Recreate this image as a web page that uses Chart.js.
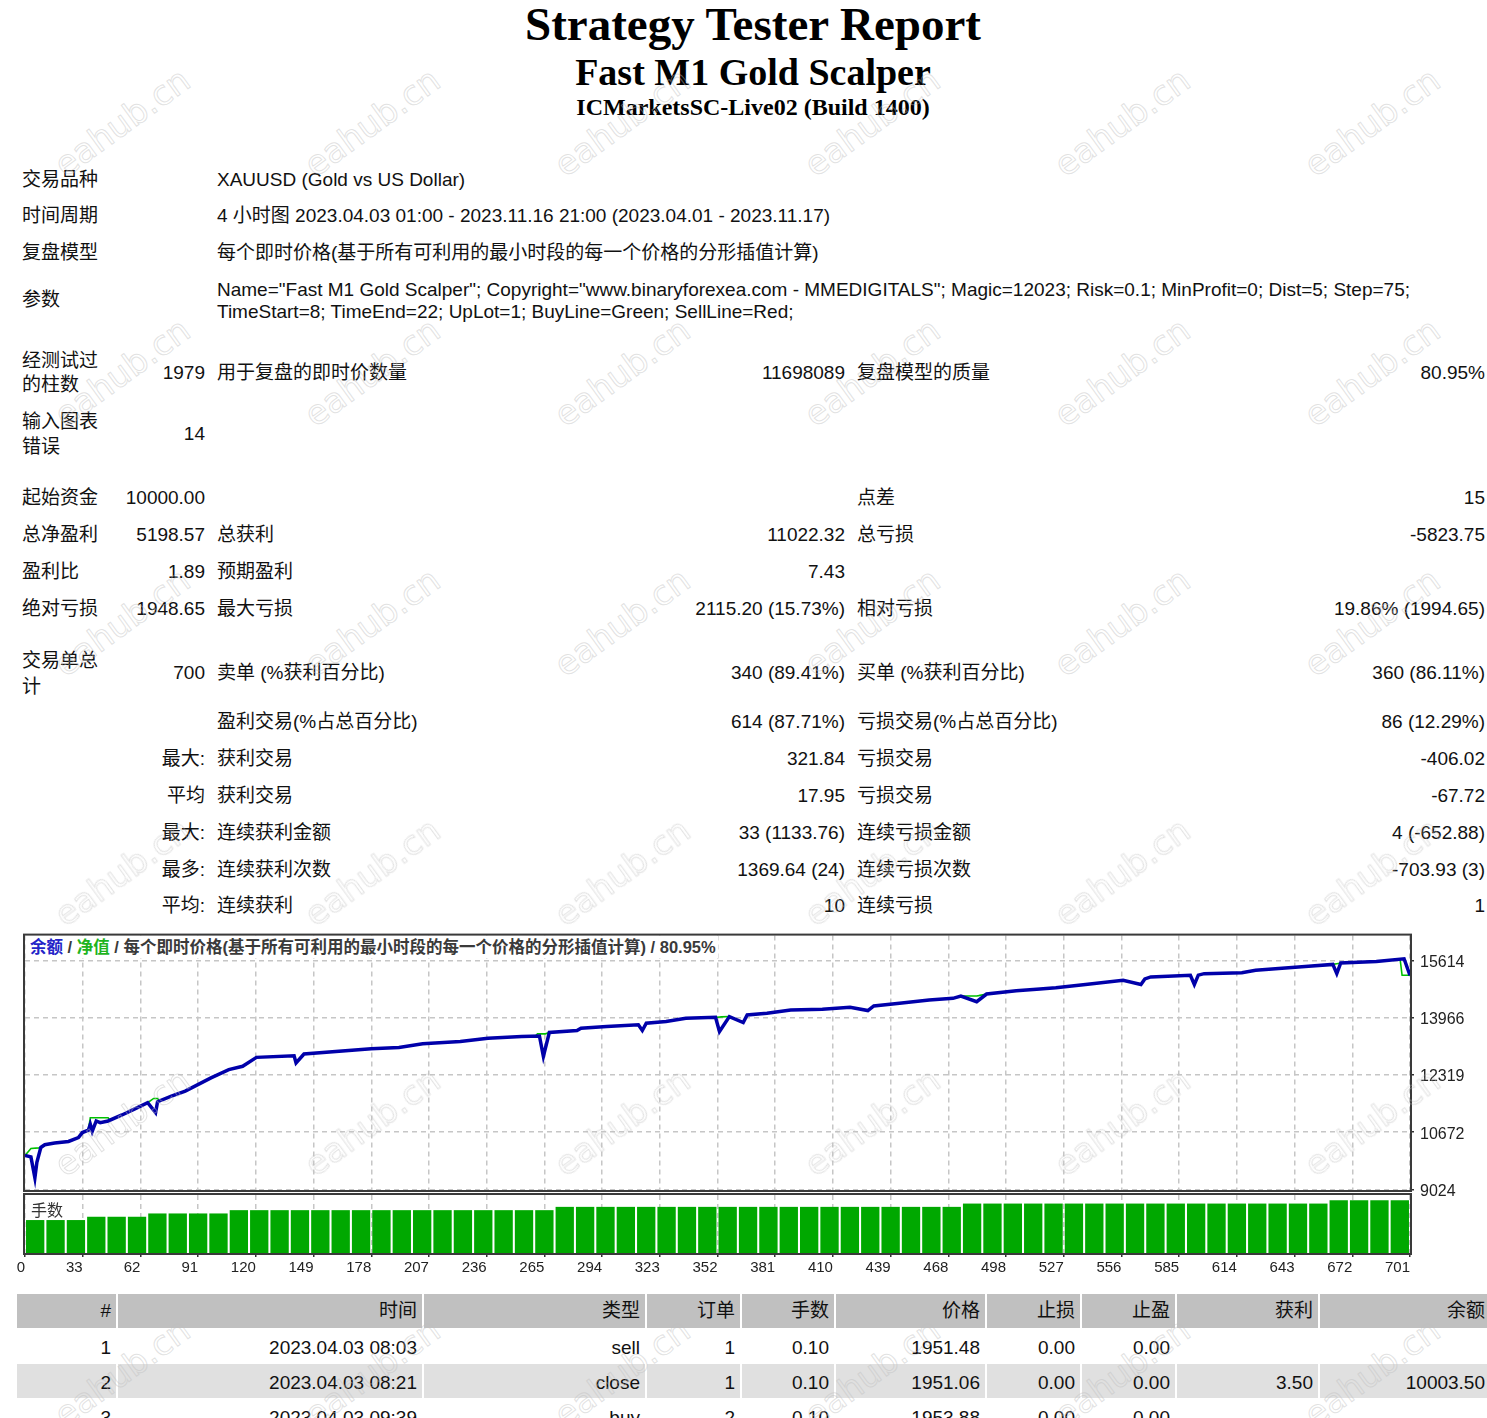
<!DOCTYPE html>
<html><head><meta charset="utf-8">
<script src="https://cdn.jsdelivr.net/npm/chart.js@4.4.0/dist/chart.umd.min.js"></script>
<style>
html,body{margin:0;padding:0;background:#fff;}
body{width:1487px;height:1418px;overflow:hidden;position:relative;font-family:"Liberation Sans","Noto Sans CJK SC",sans-serif;color:#111;}
.t{position:absolute;white-space:nowrap;font-size:19px;line-height:24px;height:24px;z-index:3;}
.h{position:absolute;left:0;width:1506px;text-align:center;font-family:"Liberation Serif",serif;font-weight:bold;color:#000;white-space:nowrap;}
.cell{position:absolute;z-index:1;}
.wm{position:absolute;font-family:"DejaVu Sans",sans-serif;font-size:34px;line-height:40px;color:transparent;-webkit-text-stroke:1px rgba(190,190,190,0.45);transform:translate(-50%,-50%) rotate(-36deg);white-space:nowrap;pointer-events:none;z-index:10;}
canvas{position:absolute;left:0;}
#legend{position:absolute;left:28px;top:936px;height:22px;line-height:22px;font-size:16.5px;font-weight:bold;background:#fff;color:#3a3a3a;padding:0 2px;white-space:nowrap;z-index:5;font-family:"Liberation Sans","Noto Sans CJK SC",sans-serif;}
#lotsTitle{position:absolute;left:31px;top:1198px;height:22px;line-height:22px;font-size:16px;color:#333;z-index:5;font-family:"Noto Sans CJK SC",sans-serif;}
</style></head><body>
<div class="h" style="top:1px;font-size:47px;line-height:47px;">Strategy Tester Report</div>
<div class="h" style="top:53px;font-size:38px;line-height:38px;">Fast M1 Gold Scalper</div>
<div class="h" style="top:95px;font-size:24px;line-height:24px;">ICMarketsSC-Live02 (Build 1400)</div>

<canvas id="c2" width="1487" height="105" style="top:1180px;"></canvas>
<canvas id="c1" width="1487" height="290" style="top:920px;"></canvas>
<div id="legend"><span style="color:#2424c8">余额</span> / <span style="color:#1eb41e">净值</span> / 每个即时价格(基于所有可利用的最小时段的每一个价格的分形插值计算) / 80.95%</div>
<div id="lotsTitle">手数</div>

<script>
// ---------- chart data ----------
const xTickLabels = ['0','33','62','91','120','149','178','207','236','265','294','323','352','381','410','439','468','498','527','556','585','614','643','672','701'];
const yTickValues = [9024, 10672, 12319, 13966, 15614];

const balanceTrade = [0,3,5,6,8,10,15,22,27,29,32,33,34,36,38,42,49,55,62,66,67,74,81,94,103,110,117,136,137,141,175,189,201,220,234,251,260,262,265,279,281,294,310,312,314,324,334,349,351,356,363,365,375,387,403,417,426,429,442,457,469,473,481,486,501,513,521,536,555,564,566,569,589,591,593,596,615,622,647,661,663,665,683,697,700];
const balanceValue = [10000,9960,9357,9803,10232,10309,10357,10403,10517,10660,10728,10900,10700,10994,10946,10994,11166,11328,11519,11233,11547,11709,11852,12233,12471,12567,12824,12871,12662,12919,13072,13110,13214,13281,13376,13424,13440,12854,13540,13598,13664,13712,13760,13598,13807,13855,13950,13979,13569,13998,13826,14046,14093,14189,14207,14265,14170,14303,14379,14476,14522,14590,14427,14647,14742,14790,14824,14919,15043,14919,15080,15138,15185,14919,15190,15233,15261,15328,15442,15499,15233,15540,15585,15661,15185];

const equityTrade = [0,3,7,8,10,15,22,27,29,32,33,42,43,49,55,62,65,67,68,74,81,94,103,110,117,136,137,141,175,189,201,220,234,251,258,259,263,265,279,281,294,310,312,314,324,334,349,350,352,356,363,365,375,387,403,417,426,429,442,457,469,473,481,482,486,501,513,521,536,555,564,566,569,589,591,593,596,615,622,647,661,663,665,683,695,696,700];
const equityValue = [10000,10204,10220,10232,10309,10357,10403,10517,10660,10728,11088,11088,11010,11166,11328,11519,11642,11642,11575,11709,11852,12233,12471,12567,12824,12871,12662,12919,13072,13110,13214,13281,13376,13424,13440,13500,13500,13540,13598,13664,13712,13760,13598,13807,13855,13950,13979,13979,13990,13998,13826,14046,14093,14189,14207,14265,14170,14303,14379,14476,14522,14590,14590,14600,14647,14742,14790,14824,14919,15043,14919,15080,15138,15185,14919,15190,15233,15261,15328,15442,15499,15520,15540,15585,15650,15185,15185];

const lotsPerBar = [0.10,0.10,0.10, 0.11,0.11,0.11, 0.12,0.12,0.12,0.12,
  0.13,0.13,0.13,0.13,0.13,0.13,0.13,0.13,0.13,0.13,0.13,0.13,0.13,0.13,0.13,0.13,
  0.14,0.14,0.14,0.14,0.14,0.14,0.14,0.14,0.14,0.14,0.14,0.14,0.14,0.14,0.14,0.14,0.14,0.14,0.14,0.14,
  0.15,0.15,0.15,0.15,0.15,0.15,0.15,0.15,0.15,0.15,0.15,0.15,0.15,0.15,0.15,0.15,0.15,0.15,
  0.16,0.16,0.16,0.16];

// ---------- report text ----------
function put(txt, x, y, right, extra) {
  const d = document.createElement('div');
  d.className = 't';
  d.textContent = txt;
  d.style.top = (y - 12) + 'px';
  if (right) d.style.right = (1487 - x) + 'px'; else d.style.left = x + 'px';
  if (extra) Object.assign(d.style, extra);
  document.body.appendChild(d);
}
function row(y, l1, v1, l2, v2, l3, v3) {
  if (l1) put(l1, 22, y);
  if (v1) put(v1, 205, y, true);
  if (l2) put(l2, 217, y);
  if (v2) put(v2, 845, y, true);
  if (l3) put(l3, 857, y);
  if (v3) put(v3, 1485, y, true);
}
put('交易品种', 22, 180); put('XAUUSD (Gold vs US Dollar)', 217, 180);
put('时间周期', 22, 216); put('4 小时图 2023.04.03 01:00 - 2023.11.16 21:00 (2023.04.01 - 2023.11.17)', 217, 216);
put('复盘模型', 22, 253); put('每个即时价格(基于所有可利用的最小时段的每一个价格的分形插值计算)', 217, 253);
put('参数', 22, 300);
put('Name="Fast M1 Gold Scalper"; Copyright="www.binaryforexea.com - MMEDIGITALS"; Magic=12023; Risk=0.1; MinProfit=0; Dist=5; Step=75;', 217, 290);
put('TimeStart=8; TimeEnd=22; UpLot=1; BuyLine=Green; SellLine=Red;', 217, 312);

put('经测试过', 22, 361); put('的柱数', 22, 385);
row(373, '', '1979', '用于复盘的即时价数量', '11698089', '复盘模型的质量', '80.95%');
put('输入图表', 22, 422); put('错误', 22, 447);
row(434, '', '14', '', '', '', '');
row(498, '起始资金', '10000.00', '', '', '点差', '15');
row(535, '总净盈利', '5198.57', '总获利', '11022.32', '总亏损', '-5823.75');
row(572, '盈利比', '1.89', '预期盈利', '7.43', '', '');
row(609, '绝对亏损', '1948.65', '最大亏损', '2115.20 (15.73%)', '相对亏损', '19.86% (1994.65)');
put('交易单总', 22, 661); put('计', 22, 687);
row(673, '', '700', '卖单 (%获利百分比)', '340 (89.41%)', '买单 (%获利百分比)', '360 (86.11%)');
row(722, '', '', '盈利交易(%占总百分比)', '614 (87.71%)', '亏损交易(%占总百分比)', '86 (12.29%)');
row(759, '', '最大:', '获利交易', '321.84', '亏损交易', '-406.02');
row(796, '', '平均', '获利交易', '17.95', '亏损交易', '-67.72');
row(833, '', '最大:', '连续获利金额', '33 (1133.76)', '连续亏损金额', '4 (-652.88)');
row(870, '', '最多:', '连续获利次数', '1369.64 (24)', '连续亏损次数', '-703.93 (3)');
row(906, '', '平均:', '连续获利', '10', '连续亏损', '1');

// ---------- trade list table ----------
const colEdges = [[17,116],[118,422],[424,645],[647,740],[742,834],[836,985],[987,1080],[1082,1175],[1177,1318],[1320,1487]];
const rowsTop = [[1294,1328,'#c0c0c0'],[1330,1362,'#ffffff'],[1364,1398,'#e0e0e0'],[1400,1434,'#ffffff']];
rowsTop.forEach(r => colEdges.forEach(c => {
  const d = document.createElement('div'); d.className = 'cell';
  Object.assign(d.style, {left: c[0]+'px', width: (c[1]-c[0])+'px', top: r[0]+'px', height: (r[1]-r[0])+'px', background: r[2]});
  document.body.appendChild(d);
}));
const tableRows = [
  [1311, ['#','时间','类型','订单','手数','价格','止损','止盈','获利','余额']],
  [1348, ['1','2023.04.03 08:03','sell','1','0.10','1951.48','0.00','0.00','','']],
  [1383, ['2','2023.04.03 08:21','close','1','0.10','1951.06','0.00','0.00','3.50','10003.50']],
  [1418, ['3','2023.04.03 09:39','buy','2','0.10','1953.88','0.00','0.00','','']]
];
tableRows.forEach(r => r[1].forEach((txt, i) => {
  if (!txt) return;
  const rx = i === 9 ? 1485 : colEdges[i][1] - 5;
  put(txt, rx, r[0], true);
}));

// ---------- watermarks ----------
[122,372,622,872,1122,1372].forEach(y => [122,372,622,872,1122,1372].forEach(x => {
  const d = document.createElement('div'); d.className = 'wm'; d.textContent = 'eahub.cn';
  d.style.left = x + 'px'; d.style.top = y + 'px';
  document.body.appendChild(d);
}));

// ---------- charts ----------
const framePlugin = {
  id: 'frame',
  afterDraw(chart) {
    const {ctx, chartArea: a} = chart;
    ctx.save();
    ctx.strokeStyle = '#3a3a3a';
    ctx.lineWidth = 2;
    ctx.setLineDash([]);
    ctx.strokeRect(a.left - 1, a.top - 1, a.right - a.left + 2, a.bottom - a.top + 2);
    ctx.restore();
  }
};
const xMax = 700;
const gridColor = '#c6c6c6';
const xTicksBuild = s => { s.ticks = xTickLabels.map((_, k) => ({value: k * xMax / (xTickLabels.length - 1)})); };

new Chart(document.getElementById('c1'), {
  type: 'line',
  data: {
    datasets: [
      {label: '余额', data: balanceTrade.map((t, i) => ({x: t, y: balanceValue[i]})), borderColor: '#0000aa', borderWidth: 3.5, pointRadius: 0, tension: 0, order: 0},
      {label: '净值', data: equityTrade.map((t, i) => ({x: t, y: equityValue[i]})), borderColor: '#00c000', borderWidth: 1.6, pointRadius: 0, tension: 0, order: 1}
    ]
  },
  options: {
    responsive: false, animation: false, events: [],
    layout: {padding: {left: 25, top: 14, right: 0, bottom: 20}},
    plugins: {legend: {display: false}, tooltip: {enabled: false}},
    scales: {
      x: {type: 'linear', min: 0, max: xMax, position: 'bottom', offset: false,
        afterBuildTicks: xTicksBuild,
        afterFit: s => { s.height = 0; },
        ticks: {display: false},
        grid: {color: gridColor, lineWidth: 1.5, drawTicks: false, offset: false},
        border: {display: false, dash: [5, 4]}},
      y: {type: 'linear', position: 'right', min: 9007, max: 16328,
        afterBuildTicks: s => { s.ticks = yTickValues.map(v => ({value: v})); },
        afterFit: s => { s.width = 77; },
        ticks: {color: '#222', font: {family: 'Liberation Sans', size: 16}, padding: 6, labelOffset: 2, autoSkip: false, callback: v => String(v)},
        grid: {color: gridColor, lineWidth: 1.5, tickColor: '#333', tickLength: 4, tickWidth: 1.5},
        border: {display: false, dash: [5, 4]}}
    }
  },
  plugins: [framePlugin]
});

new Chart(document.getElementById('c2'), {
  type: 'bar',
  data: {
    labels: lotsPerBar.map((_, i) => String(i)),
    datasets: [{label: '手数', data: lotsPerBar, xAxisID: 'xb', yAxisID: 'y', backgroundColor: '#00a800', borderWidth: 0, barPercentage: 0.9, categoryPercentage: 1}]
  },
  options: {
    responsive: false, animation: false, events: [],
    layout: {padding: {left: 25, top: 15, right: 77, bottom: 0}},
    plugins: {legend: {display: false}, tooltip: {enabled: false}},
    scales: {
      x: {type: 'linear', min: 0, max: xMax, position: 'bottom', offset: false,
        afterBuildTicks: xTicksBuild,
        afterFit: s => { s.height = 32; },
        ticks: {color: '#222', font: {family: 'Liberation Sans', size: 15}, padding: 2, align: 'end', maxRotation: 0, autoSkip: false, callback: (v, i) => xTickLabels[i]},
        grid: {color: gridColor, lineWidth: 1.5, tickColor: '#333', tickLength: 4, tickWidth: 1.5, offset: false},
        border: {display: false, dash: [5, 4]}},
      xb: {type: 'category', display: false, offset: true, grid: {display: false}},
      y: {type: 'linear', display: false, min: 0, max: 0.176}
    }
  },
  plugins: [framePlugin]
});
</script>
</body></html>
